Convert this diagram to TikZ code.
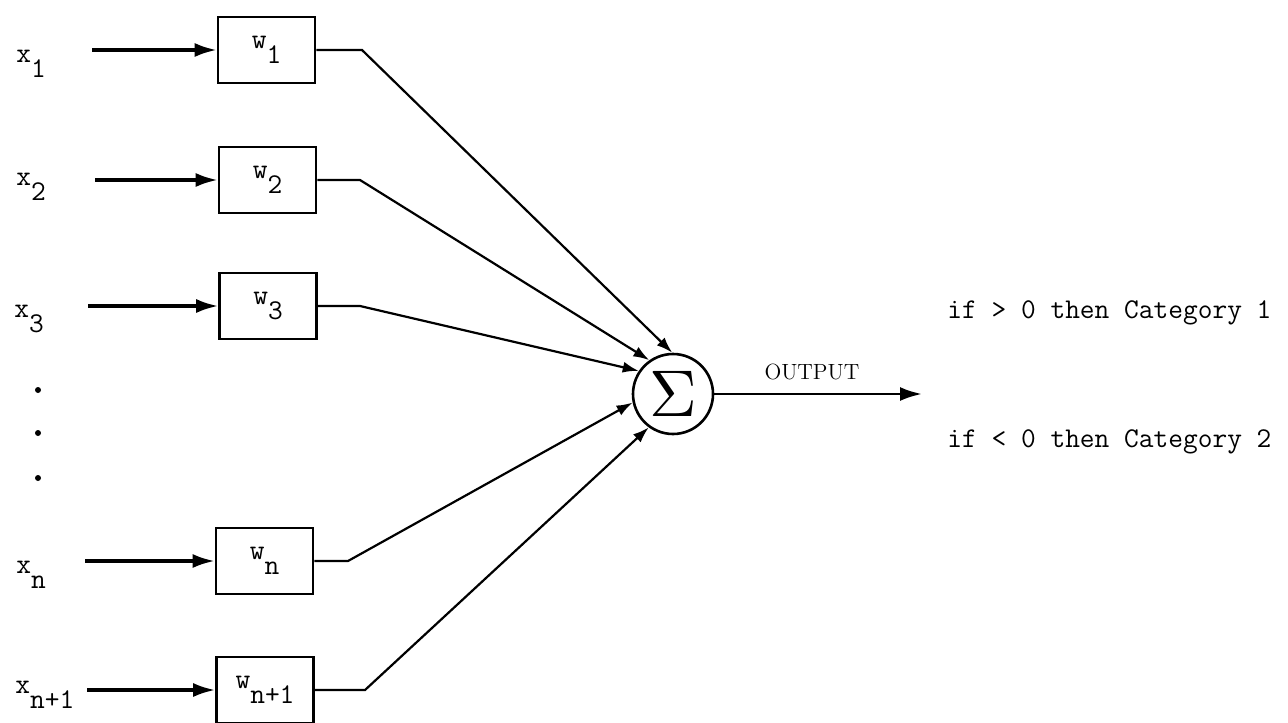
\documentclass[tikz,border=0pt]{standalone}
\usepackage{fontspec}
\usetikzlibrary{arrows.meta}
\newcommand{\lowsub}[2]{#1\raisebox{-7.5pt}{#2}}

\begin{document}
\begin{tikzpicture}[x=0.5pt,y=-0.5pt,
    >={Latex[length=11pt,width=7pt]},
    tw/.style={font=\ttfamily\fontsize{14.3}{16}\selectfont},
    wire/.style={line width=1.1pt,-{Latex[length=8pt,width=5.5pt]}}]
\useasboundingbox (0,0) rectangle (1288,722);

\begin{scope}[every node/.style={tw,anchor=base west,inner sep=0pt}]
    \node (x1) at (16,62) {\lowsub{x}{1}};
    \node (x2) at (16,185) {\lowsub{x}{2}};
    \node (x3) at (14,317) {\lowsub{x}{3}};
    \node (xn) at (16,573) {\lowsub{x}{n}};
    \node (xn1) at (15,693) {\lowsub{x}{n+1}};
\end{scope}

\fill (38,390) circle (3);
\fill (38,433) circle (3);
\fill (38,478) circle (3);

\begin{scope}[every node/.style={tw,draw,line width=1.3pt,minimum width=48.5pt,minimum height=33pt,inner sep=2pt}]
    \node (w1) at (266.5,50) {\lowsub{w}{1}};
    \node (w2) at (267.5,180) {\lowsub{w}{2}};
    \node (w3) at (268,306) {\lowsub{w}{3}};
    \node (wn) at (264.5,561) {\lowsub{w}{n}};
    \node (wn1) at (265,690) {\lowsub{w}{n+1}};
\end{scope}

\node[circle,draw,line width=1.3pt,minimum size=40pt,inner sep=0pt] (sum) at (673,394) {\scalebox{3.3}{$\Sigma$}};

\coordinate (s1) at (92,50);
\coordinate (s2) at (95,180);
\coordinate (s3) at (88,306);
\coordinate (sn) at (85,561);
\coordinate (sn1) at (87,690);
\coordinate (e1) at (362,50);
\coordinate (e2) at (360,180);
\coordinate (e3) at (360,306);
\coordinate (en) at (348,561);
\coordinate (en1) at (365,690);
\coordinate (out) at (922,394);

\draw[->,line width=1.6pt] (s1) -- (w1);
\draw[->,line width=1.6pt] (s2) -- (w2);
\draw[->,line width=1.6pt] (s3) -- (w3);
\draw[->,line width=1.6pt] (sn) -- (wn);
\draw[->,line width=1.6pt] (sn1) -- (wn1);

\draw[wire] (w1) -- (e1) -- (sum.91);
\draw[wire] (w2) -- (e2) -- (sum.125);
\draw[wire] (w3) -- (e3) -- (sum.146);
\draw[wire] (wn) -- (en) -- (sum.192);
\draw[wire] (wn1) -- (en1) -- (sum.234);

\draw[->,line width=1.4pt] (sum) -- node[above,pos=0.47,yshift=3pt,font=\fontsize{11}{13}\selectfont] (outlbl) {OUTPUT} (out);

\node[tw,anchor=base west,inner sep=0pt] (cat1) at (947,318) {if > 0 then Category 1};
\node[tw,anchor=base west,inner sep=0pt] (cat2) at (947,447) {if < 0 then Category 2};
\end{tikzpicture}
\end{document}
